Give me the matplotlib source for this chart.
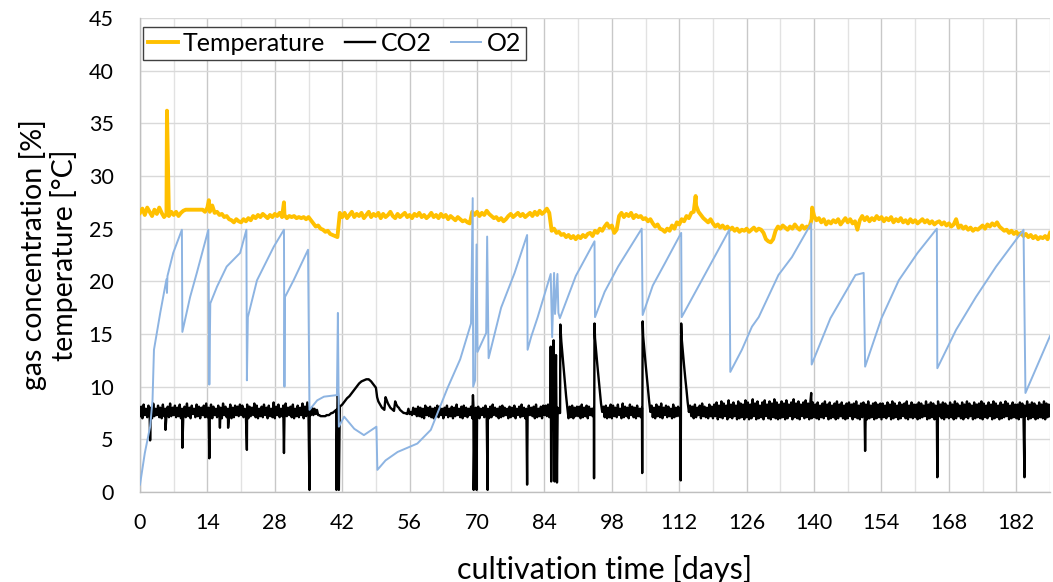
import numpy as np
import matplotlib.pyplot as plt
from matplotlib.ticker import MultipleLocator

plt.rcParams['font.family'] = ['Lato', 'DejaVu Sans']
plt.rcParams['path.simplify'] = False

# temperature [°C], one reading every half day from day 0 to day 189 (one row = one week)
temp_grid = [
    26.5, 26.9, 26.3, 27.0, 26.6, 26.2, 26.8, 26.4, 27.0, 26.5, 26.1, 26.4, 26.2, 26.6,
    26.3, 26.6, 26.2, 26.5, 26.7, 26.8, 26.8, 26.8, 26.8, 26.8, 26.8, 26.8, 26.8, 26.6,
    27.0, 26.6, 27.2, 26.5, 26.6, 26.3, 26.4, 26.1, 26.2, 25.9, 25.8, 25.6, 25.9, 25.7,
    25.6, 25.9, 25.7, 26.0, 25.8, 26.2, 26.0, 26.3, 26.1, 26.4, 26.2, 26.0, 26.3, 26.1,
    26.4, 26.2, 26.5, 26.1, 26.3, 26.0, 26.2, 26.1, 26.2, 26.0, 26.1, 26.0, 26.1, 25.9,
    26.1, 25.8, 25.5, 25.2, 25.3, 25.0, 24.9, 24.7, 24.8, 24.5, 24.4, 24.3, 24.2, 26.5,
    26.1, 26.5, 26.0, 26.3, 26.6, 26.1, 26.4, 26.2, 26.5, 26.0, 26.3, 26.6, 26.1, 26.4,
    26.2, 26.5, 26.0, 26.4, 26.1, 26.3, 26.6, 26.2, 26.0, 26.4, 26.1, 26.3, 26.5, 26.1,
    26.3, 26.0, 26.4, 26.2, 26.5, 26.1, 26.3, 26.0, 26.2, 26.5, 26.1, 26.3, 26.0, 26.4,
    26.1, 26.3, 25.9, 26.2, 26.0, 25.8, 26.1, 25.9, 25.7, 25.8, 25.6, 25.5, 26.6, 26.3,
    26.6, 26.2, 26.5, 26.3, 26.7, 26.4, 26.2, 26.0, 26.1, 25.8, 26.0, 25.7, 25.9, 26.2,
    26.4, 26.1, 26.3, 26.5, 26.2, 26.4, 26.1, 26.3, 26.5, 26.2, 26.6, 26.3, 26.7, 26.4,
    26.6, 26.9, 26.5, 24.8, 25.0, 24.6, 24.7, 24.4, 24.5, 24.2, 24.4, 24.1, 24.3, 24.0,
    24.3, 24.1, 24.4, 24.2, 24.5, 24.6, 24.3, 24.8, 24.6, 25.0, 24.8, 25.2, 25.5, 25.1,
    25.3, 24.6, 24.9, 26.2, 26.5, 26.1, 26.4, 26.2, 26.5, 26.0, 26.3, 26.1, 26.2, 25.9,
    26.0, 25.7, 25.9, 25.5, 25.2, 25.4, 25.0, 24.9, 24.7, 25.0, 24.8, 25.3, 25.0, 25.6,
    25.4, 25.9, 25.7, 26.2, 26.0, 26.5, 26.6, 27.2, 26.6, 26.3, 26.0, 25.8, 25.6, 25.9,
    25.5, 25.2, 25.4, 25.1, 25.3, 25.0, 25.2, 24.9, 25.1, 24.8, 25.0, 24.7, 24.9, 24.8,
    25.0, 24.7, 24.9, 25.1, 24.8, 25.0, 24.9, 24.6, 24.0, 23.8, 23.7, 24.0, 24.8, 25.2,
    25.0, 25.3, 25.1, 24.9, 25.2, 25.0, 25.4, 25.1, 24.9, 25.3, 25.0, 25.2, 25.1, 25.9,
    26.2, 25.8, 26.0, 25.6, 25.9, 25.4, 25.7, 25.5, 25.8, 25.6, 25.9, 25.4, 25.7, 26.0,
    25.6, 25.9, 25.5, 25.7, 24.9, 25.8, 26.2, 25.8, 26.1, 25.7, 26.0, 25.8, 26.2, 25.9,
    26.1, 25.7, 26.0, 25.8, 26.1, 25.6, 25.9, 25.7, 26.0, 25.6, 25.8, 25.5, 25.9, 25.6,
    25.8, 25.5, 25.7, 25.9, 25.6, 25.8, 25.5, 25.7, 25.4, 25.6, 25.7, 25.4, 25.6, 25.3,
    25.5, 25.2, 25.4, 25.9, 25.1, 25.3, 25.0, 25.2, 24.9, 25.1, 24.8, 25.0, 24.9, 25.1,
    25.3, 25.0, 25.4, 25.2, 25.5, 25.3, 25.6, 25.2, 25.0, 24.8, 24.9, 24.6, 24.8, 24.5,
    24.7, 24.4, 24.6, 24.3, 24.5, 24.2, 24.4, 24.1, 24.3, 24.0, 24.2, 24.1, 24.3, 24.0,
    24.6,
]
temp_spike_days = [5.6, 14.3, 29.9, 115.4, 139.6]
temp_spike_vals = [36.2, 27.7, 27.5, 28.1, 27.0]

# CO2 [%], readings at whole and half days (day 0, 0.5, ... 189)
co2_lo = [
    7.2, 7.0, 7.3, 7.1, 7.4, 7.0, 7.2, 7.3, 7.1, 7.0, 7.2, 7.3, 7.1, 7.2,
    7.3, 7.1, 7.2, 7.0, 7.3, 7.1, 7.2, 7.0, 7.4, 7.1, 7.2, 7.0, 7.3, 7.1,
    7.1, 7.2, 7.0, 7.3, 7.1, 7.2, 7.0, 7.3, 7.1, 7.2, 7.0, 7.1, 7.3, 7.2,
    7.3, 7.1, 7.2, 7.0, 7.2, 7.3, 7.1, 7.0, 7.2, 7.1, 7.3, 7.0, 7.2, 7.1,
    7.0, 7.3, 7.1, 7.2, 7.0, 7.2, 7.3, 7.1, 7.0, 7.2, 7.1, 7.3, 7.0, 7.2,
    7.2, 7.3, 7.3, 7.4, 7.3, 7.2, 7.2, 7.2, 7.3, 7.4, 7.5, 7.7, 7.9, 8.1,
    8.3, 8.6, 8.9, 9.1, 9.4, 9.7, 10.0, 10.3, 10.5, 10.6, 10.7, 10.7, 10.5, 10.2,
    9.9, 8.6, 8.2, 7.9, 9.0, 8.4, 8.0, 7.8, 8.6, 8.1, 7.8, 7.6, 7.5, 7.4,
    7.4, 7.3, 7.4, 7.2, 7.2, 7.1, 7.0, 7.3, 7.2, 7.1, 7.0, 7.2, 7.1, 7.3,
    7.0, 7.3, 7.1, 7.2, 7.0, 7.2, 7.3, 7.1, 7.0, 7.2, 7.1, 7.3, 7.0, 7.1,
    7.2, 7.0, 7.3, 7.1, 7.2, 7.0, 7.1, 7.3, 7.2, 7.0, 7.1, 7.2, 7.3, 7.0,
    7.1, 7.2, 7.0, 7.3, 7.1, 7.2, 7.0, 7.1, 7.3, 7.2, 7.0, 7.1, 7.2, 7.0,
    7.3, 7.2, 7.1, 6.5, 7.0, 7.0, 7.5, 14.3, 11.7, 9.1, 7.0, 7.1, 7.0, 7.2,
    7.2, 7.0, 7.1, 7.2, 7.0, 7.3, 7.2, 14.6, 12.0, 9.6, 7.6, 7.1, 7.0, 7.1,
    7.0, 7.2, 7.1, 7.3, 7.0, 7.1, 7.2, 7.0, 7.3, 7.1, 7.0, 7.2, 7.1, 14.8,
    12.2, 9.8, 7.6, 7.1, 7.0, 7.2, 7.1, 7.0, 7.3, 7.1, 7.2, 7.0, 7.1, 7.2,
    7.2, 14.6, 12.0, 9.7, 7.6, 7.2, 7.0, 7.1, 7.3, 7.0, 7.2, 7.1, 7.0, 7.2,
    7.0, 7.2, 6.9, 7.1, 7.0, 7.2, 6.9, 7.1, 7.0, 7.2, 6.9, 7.0, 7.1, 6.9,
    7.1, 6.9, 7.0, 7.2, 6.9, 7.0, 7.1, 6.9, 7.2, 7.0, 6.9, 7.1, 7.0, 6.9,
    7.0, 7.1, 6.9, 7.0, 7.2, 6.9, 7.1, 7.0, 6.9, 7.2, 7.0, 7.1, 6.9, 7.0,
    7.1, 7.0, 6.9, 7.1, 7.0, 7.2, 6.9, 7.0, 7.1, 6.9, 7.0, 7.2, 7.0, 6.9,
    7.0, 7.2, 6.9, 7.1, 7.0, 6.9, 7.1, 7.2, 6.9, 7.0, 7.1, 6.9, 7.0, 7.1,
    6.9, 7.1, 7.0, 7.2, 6.9, 7.0, 7.1, 6.9, 7.0, 7.2, 7.0, 6.9, 7.1, 7.0,
    7.1, 6.9, 7.0, 7.1, 7.2, 6.9, 7.0, 7.1, 6.9, 7.0, 7.2, 7.0, 6.9, 7.1,
    7.0, 7.1, 6.9, 7.0, 7.2, 7.0, 6.9, 7.1, 7.0, 7.2, 6.9, 7.0, 7.1, 7.0,
    6.9, 7.1, 7.0, 7.2, 6.9, 7.0, 7.1, 6.9, 7.0, 7.1, 7.2, 6.9, 7.0, 7.1,
    7.0, 6.9, 7.1, 7.0, 7.2, 6.9, 7.0, 7.1, 6.9, 7.0, 7.1, 7.0, 6.9, 7.1,
    7.2,
]
# CO2 [%], readings at the quarter days in between (day 0.25, 0.75, ... 188.75)
co2_hi = [
    8.1, 8.3, 7.9, 8.2, 8.0, 8.4, 7.9, 8.2, 8.0, 8.3, 7.9, 8.1, 8.4, 8.0,
    8.2, 8.0, 8.3, 7.9, 8.1, 8.4, 8.0, 8.2, 7.9, 8.3, 8.1, 8.0, 8.2, 8.4,
    8.0, 8.3, 8.1, 7.9, 8.2, 8.0, 8.4, 8.1, 7.9, 8.3, 8.0, 8.2, 8.1, 8.3,
    8.2, 7.9, 8.3, 8.1, 8.0, 8.4, 8.2, 7.9, 8.1, 8.3, 8.0, 8.2, 7.9, 8.5,
    8.1, 8.3, 7.9, 8.2, 8.4, 8.0, 8.1, 8.3, 7.9, 8.2, 8.0, 8.4, 8.1, 8.5,
    7.9, 8.0, 7.9, 7.8, 7.3, 7.2, 7.2, 7.3, 7.3, 7.5, 7.6, 7.8, 8.0, 8.2,
    8.45, 8.75, 9.0, 9.25, 9.55, 9.85, 10.15, 10.4, 10.55, 10.65, 10.7, 10.6, 10.35, 10.05,
    9.0, 8.4, 8.0, 7.8, 8.7, 8.2, 7.9, 7.7, 8.3, 8.0, 7.7, 7.5, 7.45, 7.9,
    7.6, 8.0, 7.9, 8.1, 8.0, 7.9, 8.2, 8.0, 8.1, 7.9, 8.0, 8.2, 8.1, 7.9,
    8.0, 8.2, 7.9, 8.1, 8.0, 8.3, 7.9, 8.1, 8.2, 8.0, 7.9, 8.1, 8.2, 8.0,
    8.1, 7.9, 8.0, 8.2, 7.9, 8.1, 8.3, 8.0, 7.9, 8.1, 8.2, 8.0, 7.9, 8.1,
    8.0, 8.2, 7.9, 8.1, 8.3, 8.0, 7.9, 8.2, 8.0, 8.1, 8.3, 7.9, 8.1, 8.2,
    8.2, 8.3, 8.0, 7.6, 7.8, 8.0, 7.5, 13.0, 10.4, 8.0, 8.1, 8.2, 8.0, 8.1,
    8.1, 8.3, 8.0, 8.2, 8.1, 7.9, 8.0, 13.3, 10.8, 8.4, 8.1, 8.2, 8.0, 8.3,
    8.2, 8.0, 8.3, 7.9, 8.4, 8.1, 8.0, 8.3, 8.1, 8.0, 8.2, 7.9, 8.0, 13.5,
    11.0, 8.6, 8.2, 8.0, 8.3, 8.1, 8.4, 8.0, 8.2, 8.1, 7.9, 8.3, 8.0, 8.1,
    8.0, 13.3, 10.8, 8.5, 8.2, 8.1, 8.3, 8.0, 8.2, 8.4, 8.1, 8.0, 8.3, 8.1,
    8.3, 8.5, 8.2, 8.6, 8.4, 8.2, 8.7, 8.3, 8.5, 8.2, 8.6, 8.4, 8.3, 8.7,
    8.5, 8.3, 8.8, 8.4, 8.6, 8.2, 8.5, 8.7, 8.3, 8.6, 8.4, 8.8, 8.5, 8.3,
    8.6, 8.4, 8.7, 8.3, 8.5, 8.8, 8.4, 8.6, 8.3, 8.5, 8.7, 8.4, 8.6, 8.5,
    8.3, 8.5, 8.2, 8.4, 8.6, 8.3, 8.5, 8.2, 8.4, 8.6, 8.3, 8.5, 8.2, 8.4,
    8.5, 8.3, 8.4, 8.6, 8.2, 8.4, 8.5, 8.3, 8.6, 8.2, 8.4, 8.5, 8.3, 8.4,
    8.4, 8.2, 8.5, 8.3, 8.6, 8.4, 8.2, 8.5, 8.3, 8.4, 8.6, 8.2, 8.5, 8.3,
    8.3, 8.5, 8.4, 8.2, 8.6, 8.3, 8.5, 8.4, 8.2, 8.6, 8.3, 8.5, 8.4, 8.2,
    8.5, 8.3, 8.6, 8.4, 8.2, 8.5, 8.3, 8.6, 8.4, 8.2, 8.5, 8.3, 8.4, 8.6,
    8.4, 8.2, 8.5, 8.3, 8.6, 8.4, 8.2, 8.5, 8.3, 8.6, 8.4, 8.2, 8.5, 8.3,
    8.3, 8.5, 8.4, 8.2, 8.6, 8.3, 8.5, 8.4, 8.2, 8.5, 8.3, 8.6, 8.4, 8.3,
]
co2_spike_days = [2.1, 5.3, 8.8, 14.4, 16.6, 18.3, 22.2, 29.9, 35.2, 40.8, 41.05, 41.3,
                  69.15, 69.3, 69.9, 72.2, 80.4, 85.3, 85.4, 85.8, 85.9, 86.1, 86.4,
                  86.6, 87.3, 94.3, 94.4, 104.3, 104.4, 112.3, 112.4, 139.4, 150.6,
                  165.6, 183.7]
co2_spike_vals = [4.9, 5.9, 4.2, 3.2, 6.1, 6.1, 4.0, 3.7, 0.2, 0.2, 9.8, 0.2,
                  9.2, 0.2, 0.2, 0.2, 0.7, 13.8, 1.0, 12.5, 14.4, 1.0, 13.0,
                  0.9, 15.9, 1.3, 16.0, 1.8, 16.2, 1.1, 16.0, 9.4, 3.9,
                  1.4, 1.4]

# O2 [%]
o2_days = [0, 1.0, 2.1, 2.6, 2.9, 4.2, 5.5, 5.6, 5.7, 6.9, 8.7, 8.8, 10.4, 11.8,
           14.2, 14.4, 14.6, 16.0, 18.0, 20.8, 22.1, 22.2, 22.4, 24.3, 27.8, 29.9,
           30.0, 30.1, 31.9, 34.9, 35.2, 36.8, 38.2, 40.9, 41.1, 41.3, 42.4, 44.5,
           46.5, 49.1, 49.3, 51.0, 53.5, 57.6, 60.4, 62.5, 63.9, 66.5, 68.75, 69.1,
           69.2, 69.6, 69.9, 70.1, 71.9, 72.1, 72.4, 75.0, 77.8, 80.4, 80.5, 81.25,
           82.6, 85.3, 85.6, 86.0, 86.2, 86.7, 86.9, 87.2, 90.5, 94.4, 94.5, 96.5,
           99.3, 104.2, 104.4, 106.5, 109.0, 112.4, 112.5, 115.6, 122.4, 122.6,
           125.0, 127.1, 128.5, 132.6, 135.4, 139.4, 139.5, 143.4, 148.6, 150.3,
           150.6, 154.0, 157.6, 161.5, 165.5, 165.6, 169.5, 173.6, 177.8, 183.5,
           183.9, 189.0]
o2_vals = [0.7, 3.7, 6.2, 8.7, 13.5, 17.0, 20.2, 18.9, 20.5, 22.7, 24.9, 15.2, 18.5, 20.8,
           24.9, 10.2, 17.9, 19.5, 21.4, 22.7, 24.9, 10.6, 16.6, 20.1, 23.3, 24.9,
           10.0, 18.5, 20.1, 23.0, 7.8, 8.7, 9.05, 9.2, 17.0, 6.2, 7.15, 6.0,
           5.4, 6.2, 2.1, 3.0, 3.8, 4.6, 5.9, 8.3, 9.9, 12.6, 16.0, 27.9,
           10.0, 10.6, 23.5, 13.3, 15.1, 24.25, 12.7, 17.5, 20.8, 24.4, 13.5, 14.75,
           16.6, 20.7, 14.7, 20.8, 16.9, 20.7, 17.0, 16.5, 20.5, 23.8, 16.6, 19.0,
           21.4, 25.0, 16.8, 19.6, 21.7, 24.6, 16.6, 19.2, 24.9, 11.4,
           13.5, 15.7, 16.6, 20.6, 22.3, 25.5, 12.1, 16.5, 20.6, 20.8,
           11.9, 16.5, 20.1, 22.7, 25.0, 11.75, 15.4, 18.5, 21.4, 24.9,
           9.4, 14.8]


def merge(parts):
    # parts: list of (days, values); sorted together into one series
    d = np.concatenate([np.asarray(p[0], float) for p in parts])
    v = np.concatenate([np.asarray(p[1], float) for p in parts])
    order = np.argsort(d, kind='stable')
    return d[order], v[order]


half_days = np.arange(len(temp_grid)) * 0.5
temp_d, temp_v = merge([(half_days, temp_grid), (temp_spike_days, temp_spike_vals)])
co2_d, co2_v = merge([(np.arange(len(co2_lo)) * 0.5, co2_lo),
                      (np.arange(len(co2_hi)) * 0.5 + 0.25, co2_hi),
                      (co2_spike_days, co2_spike_vals)])

fig = plt.figure(figsize=(10.53, 5.82), dpi=100)
ax = fig.add_axes([140 / 1053, 1 - 492 / 582, 910 / 1053, 474 / 582])

ax.plot(temp_d, temp_v, color='#FFC000', lw=2.8, label='Temperature', zorder=3)
ax.plot(co2_d, co2_v, color='black', lw=1.7, label='CO2', zorder=4)
ax.plot(o2_days, o2_vals, color='#8DB4E2', lw=1.4, label='O2', zorder=5)

ax.set_xlim(0, 189)
ax.set_ylim(0, 45)
ax.xaxis.set_major_locator(MultipleLocator(14))
ax.xaxis.set_minor_locator(MultipleLocator(7))
ax.yaxis.set_major_locator(MultipleLocator(5))
ax.grid(which='major', axis='x', color='#c8c8c8', lw=1.0)
ax.grid(which='minor', axis='x', color='#e2e2e2', lw=1.0)
ax.grid(which='major', axis='y', color='#d9d9d9', lw=1.0)
ax.set_axisbelow(True)
ax.tick_params(which='both', length=0, labelsize=15.5, colors='black')
ax.tick_params(axis='x', pad=15)
ax.tick_params(axis='y', pad=19)
for s in ['top', 'right']:
    ax.spines[s].set_visible(False)
for s in ['left', 'bottom']:
    ax.spines[s].set_color('#bfbfbf')
    ax.spines[s].set_linewidth(1.0)

ax.set_xlabel('cultivation time [days]', fontsize=22)
ax.xaxis.set_label_coords(0.51, -0.132)
ax.set_ylabel('gas concentration [%]\ntemperature [°C]', fontsize=20.5,
              multialignment='center', linespacing=1.15)
ax.yaxis.set_label_coords(-0.068, 0.5)

leg = ax.legend(loc='upper left', bbox_to_anchor=(0.0033, 0.9816), borderaxespad=0,
                ncol=3, fontsize=18, fancybox=False, framealpha=1, edgecolor='#404040',
                handlelength=1.2, handletextpad=0.2, columnspacing=0.8, borderpad=0.2)
leg.get_frame().set_linewidth(1.0)

fig.savefig('out.png', dpi=100)
